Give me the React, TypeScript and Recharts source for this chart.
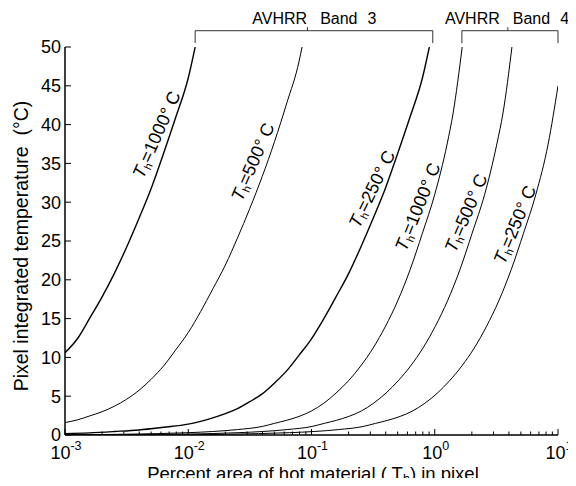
import React from 'react';
import { LineChart, Line, XAxis, YAxis, ReferenceLine, ReferenceDot } from 'recharts';

const FONT = '"Liberation Sans", Arial, Helvetica, sans-serif';

// ---- curve values: percent area of hot material (x) vs pixel integrated temperature (y, °C)
const band3T1000Pct = [0.001, 0.00126, 0.00158, 0.002, 0.00251, 0.00316, 0.00398, 0.00501, 0.00631, 0.00794, 0.01, 0.01138];
const band3T1000Temp = [10.6, 12.4, 15.0, 17.8, 20.8, 24.2, 27.9, 31.8, 36.3, 41.0, 46.0, 50];

const band3T500Pct = [0.001, 0.00126, 0.00158, 0.002, 0.00251, 0.00316, 0.00398, 0.00501, 0.00631, 0.00794, 0.01, 0.0126, 0.0158, 0.02, 0.0251, 0.0316, 0.0398, 0.0501, 0.0631, 0.0794, 0.0838];
const band3T500Temp = [1.6, 1.95, 2.45, 3.0, 3.7, 4.6, 5.75, 7.2, 8.9, 11.0, 13.2, 15.9, 18.8, 21.9, 25.4, 29.2, 33.3, 37.8, 42.8, 48.2, 50];

const band3T250Pct = [0.001, 0.00158, 0.00251, 0.00398, 0.00631, 0.01, 0.0126, 0.0158, 0.02, 0.0251, 0.0316, 0.0398, 0.0501, 0.0631, 0.0794, 0.1, 0.126, 0.158, 0.2, 0.251, 0.316, 0.398, 0.501, 0.631, 0.794, 0.904];
const band3T250Temp = [0.18, 0.28, 0.45, 0.65, 1.0, 1.4, 1.75, 2.2, 2.75, 3.4, 4.3, 5.3, 6.7, 8.3, 10.3, 12.4, 15.0, 17.8, 20.8, 24.2, 27.9, 31.8, 36.3, 41.0, 46.0, 50];

const band4T1000Pct = [0.001, 0.00316, 0.01, 0.0158, 0.0251, 0.0398, 0.0501, 0.0631, 0.0794, 0.1, 0.126, 0.158, 0.2, 0.251, 0.316, 0.398, 0.501, 0.631, 0.794, 1.0, 1.26, 1.41, 1.67];
const band4T1000Temp = [0.03, 0.1, 0.3, 0.45, 0.7, 1.1, 1.5, 1.9, 2.4, 3.1, 4.1, 5.4, 7.0, 8.9, 11.2, 14.0, 17.3, 21.3, 26.0, 31.0, 37.5, 41.5, 50];

const band4T500Pct = [0.001, 0.01, 0.0254, 0.0401, 0.0635, 0.101, 0.127, 0.16, 0.201, 0.254, 0.319, 0.402, 0.506, 0.637, 0.802, 1.01, 1.27, 1.6, 2.01, 2.54, 3.19, 3.58, 4.23];
const band4T500Temp = [0.01, 0.12, 0.3, 0.45, 0.7, 1.1, 1.5, 1.9, 2.4, 3.1, 4.1, 5.4, 7.0, 8.9, 11.2, 14.0, 17.3, 21.3, 26.0, 31.0, 37.5, 41.5, 50];

const band4T250Pct = [0.001, 0.01, 0.0209, 0.0661, 0.105, 0.166, 0.263, 0.331, 0.417, 0.525, 0.661, 0.832, 1.05, 1.32, 1.66, 2.09, 2.63, 3.31, 4.17, 5.25, 6.61, 8.32, 10];
const band4T250Temp = [0.005, 0.02, 0.1, 0.3, 0.45, 0.7, 1.1, 1.5, 1.9, 2.4, 3.1, 4.1, 5.4, 7.0, 8.9, 11.2, 14.0, 17.3, 21.3, 26.0, 31.0, 37.5, 45.0];

// ---- axis ticks
const xMajorTicks = [0.001, 0.01, 0.1, 1, 10];
const xMajorExponents = ['-3', '-2', '-1', '0', '1'];
const xMinorTicks = [
  0.002, 0.003, 0.004, 0.005, 0.006, 0.007, 0.008, 0.009,
  0.02, 0.03, 0.04, 0.05, 0.06, 0.07, 0.08, 0.09,
  0.2, 0.3, 0.4, 0.5, 0.6, 0.7, 0.8, 0.9,
  2, 3, 4, 5, 6, 7, 8, 9,
];
const yTicks = [0, 5, 10, 15, 20, 25, 30, 35, 40, 45, 50];

// ---- annotations
const curveLabelTemps = ['1000', '500', '250', '1000', '500', '250'];
const curveLabelPct = [0.00554, 0.0335, 0.31, 0.73, 1.8, 4.48];
const curveLabelY = [38.7, 35.2, 31.7, 29.4, 28.6, 27.1];
const curveLabelAngle = [-66, -66.5, -64, -68, -67, -67.3];

const bandWord = 'AVHRR';
const bandNumbers = ['3', '4'];
const bandStart = [0.01138, 1.66];
const bandEnd = [0.964, 10];
const bandMid = [0.0927, 3.92];
const bandTextPct = [0.0331, 1.21];

const curves = [
  { key: 'b3_1000', pct: band3T1000Pct, temp: band3T1000Temp, w: 1.4 },
  { key: 'b3_500', pct: band3T500Pct, temp: band3T500Temp, w: 1.0 },
  { key: 'b3_250', pct: band3T250Pct, temp: band3T250Temp, w: 1.4 },
  { key: 'b4_1000', pct: band4T1000Pct, temp: band4T1000Temp, w: 1.0 },
  { key: 'b4_500', pct: band4T500Pct, temp: band4T500Temp, w: 1.0 },
  { key: 'b4_250', pct: band4T250Pct, temp: band4T250Temp, w: 1.0 },
];

const allXTicks = [...xMajorTicks, ...xMinorTicks].sort((a, b) => a - b);

const majorIndex = (v: number) => xMajorTicks.findIndex((t) => Math.abs(t - v) / t < 1e-6);

const BottomTick = (props: any) => {
  const { x, y, payload } = props;
  const idx = majorIndex(payload.value);
  const major = idx >= 0;
  return (
    <g>
      <line x1={x} y1={y} x2={x} y2={y - (major ? 6 : 3.5)} stroke="#000" strokeWidth={1} />
      {major && (
        <text x={x + 1} y={y + 24} textAnchor="middle" fontFamily={FONT} fontSize={18} fill="#000">
          10
          <tspan fontSize={12.5} dy={-9}>{xMajorExponents[idx]}</tspan>
        </text>
      )}
    </g>
  );
};

const TopTick = (props: any) => {
  const { x, y, payload } = props;
  const major = majorIndex(payload.value) >= 0;
  return <line x1={x} y1={y} x2={x} y2={y + (major ? 6 : 3.5)} stroke="#000" strokeWidth={1} />;
};

const LeftTick = (props: any) => {
  const { x, y, payload } = props;
  return (
    <g>
      <line x1={x} y1={y} x2={x + 6} y2={y} stroke="#000" strokeWidth={1} />
      <text x={x - 4} y={y} dy="0.36em" textAnchor="end" fontFamily={FONT} fontSize={18} fill="#000">
        {payload.value}
      </text>
    </g>
  );
};

const RightTick = (props: any) => {
  const { x, y } = props;
  return <line x1={x} y1={y} x2={x - 6} y2={y} stroke="#000" strokeWidth={1} />;
};

const XLabel = () => (
  <text x={313} y={480} textAnchor="middle" fontFamily={FONT} fontSize={18.5} fill="#000">
    Percent area of hot material ( T
    <tspan fontSize={12.5} dy={3}>h</tspan>
    <tspan dy={-3}>) in pixel</tspan>
  </text>
);

const YLabel = () => (
  <text
    x={28}
    y={246}
    transform="rotate(-90 28 246)"
    textAnchor="middle"
    fontFamily={FONT}
    fontSize={19.5}
    fill="#000"
    style={{ whiteSpace: 'pre' }}
  >
    {'Pixel integrated temperature  (°C)'}
  </text>
);

const renderCurveLabel = (cx: number, cy: number, angle: number, t: string) => (
  <text
    x={cx}
    y={cy}
    transform={`rotate(${angle} ${cx} ${cy})`}
    textAnchor="middle"
    dominantBaseline="central"
    fontFamily={FONT}
    fontSize={18}
    fill="#000"
  >
    <tspan fontStyle="italic">T</tspan>
    <tspan fontSize={11} dy={5}>h</tspan>
    <tspan dy={-5}>{`=${t}° C`}</tspan>
  </text>
);

const renderBandText = (cx: number, cy: number, n: string) => (
  <text x={cx} y={cy} textAnchor="start" fontFamily={FONT} fontSize={16} fill="#000">
    <tspan>{bandWord}</tspan>
    <tspan dx={13}>Band</tspan>
    <tspan dx={10}>{n}</tspan>
  </text>
);

export default function App() {
  return (
    <div style={{ margin: -8, width: 576, height: 486, background: '#fff' }}>
      <LineChart width={576} height={486} margin={{ top: 47, right: 18, bottom: 0, left: 0 }}>
        <XAxis
          xAxisId="b"
          dataKey="x"
          type="number"
          scale="log"
          domain={[0.001, 10]}
          allowDataOverflow
          ticks={allXTicks}
          interval={0}
          tick={BottomTick}
          tickLine={false}
          tickSize={0}
          tickMargin={0}
          axisLine={{ stroke: '#000', strokeWidth: 1.5 }}
          height={51}
          label={XLabel}
        />
        <XAxis
          xAxisId="t"
          orientation="top"
          dataKey="x"
          type="number"
          scale="log"
          domain={[0.001, 10]}
          allowDataOverflow
          ticks={allXTicks}
          interval={0}
          tick={TopTick}
          tickLine={false}
          tickSize={0}
          tickMargin={0}
          axisLine={{ stroke: '#000', strokeWidth: 1.5 }}
          height={0}
        />
        <YAxis
          yAxisId="l"
          type="number"
          domain={[0, 50]}
          allowDataOverflow
          ticks={yTicks}
          interval={0}
          tick={LeftTick}
          tickLine={false}
          tickSize={0}
          tickMargin={0}
          axisLine={{ stroke: '#000', strokeWidth: 1.5 }}
          width={65}
          label={YLabel}
        />
        <YAxis
          yAxisId="r"
          orientation="right"
          type="number"
          domain={[0, 50]}
          allowDataOverflow
          ticks={yTicks}
          interval={0}
          tick={RightTick}
          tickLine={false}
          tickSize={0}
          tickMargin={0}
          axisLine={{ stroke: '#000', strokeWidth: 1.5 }}
          width={0}
        />
        {curves.map((c) => (
          <Line
            key={c.key}
            xAxisId="b"
            yAxisId="l"
            data={c.pct.map((x, i) => ({ x, y: c.temp[i] }))}
            dataKey="y"
            type="monotone"
            stroke="#000"
            strokeWidth={c.w}
            dot={false}
            activeDot={false}
            isAnimationActive={false}
          />
        ))}
        {curveLabelTemps.map((t, i) => (
          <ReferenceDot
            key={`cl${i}`}
            xAxisId="b"
            yAxisId="l"
            x={curveLabelPct[i]}
            y={curveLabelY[i]}
            r={0}
            ifOverflow="visible"
            shape={(p: any) => renderCurveLabel(p.cx, p.cy, curveLabelAngle[i], t)}
          />
        ))}
        {bandNumbers.map((n, i) => (
          <React.Fragment key={`band${i}`}>
            <ReferenceLine
              xAxisId="b"
              yAxisId="l"
              ifOverflow="visible"
              segment={[{ x: bandStart[i], y: 52.1 }, { x: bandEnd[i], y: 52.1 }]}
              stroke="#333"
              strokeWidth={1}
            />
            <ReferenceLine
              xAxisId="b"
              yAxisId="l"
              ifOverflow="visible"
              segment={[{ x: bandStart[i], y: 52.1 }, { x: bandStart[i], y: 50.5 }]}
              stroke="#333"
              strokeWidth={1}
            />
            <ReferenceLine
              xAxisId="b"
              yAxisId="l"
              ifOverflow="visible"
              segment={[{ x: bandEnd[i], y: 52.1 }, { x: bandEnd[i], y: 50.5 }]}
              stroke="#333"
              strokeWidth={1}
            />
            <ReferenceLine
              xAxisId="b"
              yAxisId="l"
              ifOverflow="visible"
              segment={[{ x: bandMid[i], y: 52.1 }, { x: bandMid[i], y: 52.55 }]}
              stroke="#333"
              strokeWidth={1}
            />
            <ReferenceDot
              xAxisId="b"
              yAxisId="l"
              x={bandTextPct[i]}
              y={53.0}
              r={0}
              ifOverflow="visible"
              shape={(p: any) => renderBandText(p.cx, p.cy, n)}
            />
          </React.Fragment>
        ))}
      </LineChart>
    </div>
  );
}
